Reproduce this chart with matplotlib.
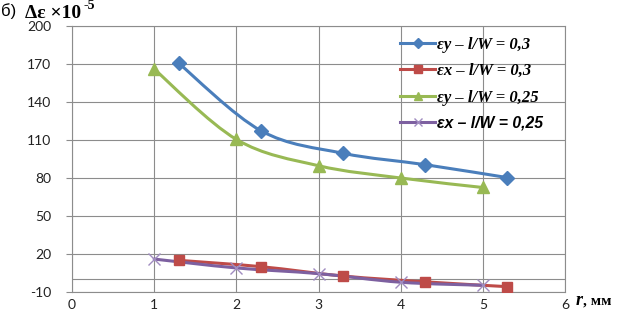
import matplotlib
matplotlib.use("Agg")
import matplotlib.pyplot as plt
from matplotlib.path import Path
from matplotlib.patches import PathPatch
from matplotlib.lines import Line2D
import numpy as np

# ---- data ----
x_shift = [1.3, 2.3, 3.3, 4.3, 5.3]
x_base = [1, 2, 3, 4, 5]
ey_03 = [170.5, 117.3, 99.5, 90.5, 80.3]
ex_03 = [15.0, 10.0, 2.6, -2.0, -5.8]
ey_025 = [166.0, 110.5, 89.7, 80.0, 72.5]
ex_025 = [16.0, 9.0, 4.5, -2.3, -4.7]
labels = ["εy – l/W = 0,3", "εx – l/W = 0,3", "εy – l/W = 0,25", "εx – l/W = 0,25"]
y_ticks = [-10, 20, 50, 80, 110, 140, 170, 200]
x_ticks = [0, 1, 2, 3, 4, 5, 6]

colors = ["#4A7EBB", "#BE4B48", "#98B954", "#7D60A0"]
markers = ["D", "s", "^", "x"]
msizes = [7, 7, 8, 8]

W, H = 617, 313
fig = plt.figure(figsize=(W / 100, H / 100), dpi=100)
ax = fig.add_axes([72 / W, 1 - 292 / H, (565 - 72) / W, (292 - 26) / H])

def smooth_path(xs, ys):
    P = np.column_stack([xs, ys]).astype(float)
    n = len(P)
    verts = [P[0]]
    codes = [Path.MOVETO]
    for i in range(n - 1):
        p0 = P[i - 1] if i > 0 else P[i]
        p1 = P[i]
        p2 = P[i + 1]
        p3 = P[i + 2] if i + 2 < n else P[i + 1]
        c1 = p1 + (p2 - p0) / 6.0
        c2 = p2 - (p3 - p1) / 6.0
        verts += [c1, c2, p2]
        codes += [Path.CURVE4] * 3
    return Path(verts, codes)

series = [(x_shift, ey_03), (x_shift, ex_03), (x_base, ey_025), (x_base, ex_025)]
handles = []
for k, (xs, ys) in enumerate(series):
    patch = PathPatch(smooth_path(xs, ys), facecolor="none", edgecolor=colors[k],
                      lw=2.2, zorder=3, capstyle="round", joinstyle="round")
    ax.add_patch(patch)
    if markers[k] == "x":
        ax.plot(xs, ys, linestyle="none", marker="x", ms=msizes[k], mew=1.0,
                color="#A08CC0", zorder=4)
        h = Line2D([], [], color=colors[k], lw=2.2, marker="x", ms=6,
                   mew=1.0, mec="#A08CC0")
    else:
        ax.plot(xs, ys, linestyle="none", marker=markers[k], ms=msizes[k],
                color=colors[k], mec=colors[k], zorder=4)
        h = Line2D([], [], color=colors[k], lw=2.2, marker=markers[k], ms=5.5)
    handles.append(h)

ax.set_xlim(0, 6)
ax.set_ylim(-10, 200)
ax.set_xticks(x_ticks)
ax.set_yticks(y_ticks)
ax.grid(True, color="#8C8C8C", lw=0.8)
ax.set_axisbelow(True)
ax.axhline(0, color="#8C8C8C", lw=0.8, zorder=1)
for s in ax.spines.values():
    s.set_color("#8C8C8C")
    s.set_linewidth(0.8)

tick_font = dict(family="Lato", size=10)
ax.set_xticklabels([str(v) for v in x_ticks], **tick_font, color="#222222")
ax.set_yticklabels([str(v) for v in y_ticks], **tick_font, color="#222222")
ax.tick_params(axis="y", length=4, width=0.8, color="#8C8C8C", pad=11)
ax.tick_params(axis="x", length=0, pad=5)

leg = ax.legend(handles, labels, loc="upper left", bbox_to_anchor=(400 / W, 1 - 37 / H),
                bbox_transform=fig.transFigure, frameon=False, handlelength=2.1,
                handletextpad=0.1, labelspacing=0.62, borderaxespad=0, borderpad=0,
                numpoints=1,
                prop=dict(family="Liberation Serif", style="italic", weight="bold", size=12))
leg.get_texts()[3].set_fontfamily("Liberation Sans")
leg.get_texts()[3].set_fontsize(11.3)

# title pieces
fig.text(1 / W, 1 - 16 / H, "б)", family="Liberation Sans", size=12, color="black")
fig.text(25 / W, 1 - 18 / H, "Δε ×10", family="Liberation Serif", weight="bold",
         size=14, color="black")
fig.text(83 / W, 1 - 9 / H, "-5", family="Liberation Serif", weight="bold",
         size=10, color="black")

# x axis label
fig.text(576 / W, 1 - 305 / H, "r", family="Liberation Serif", style="italic",
         weight="bold", size=13)
fig.text(583 / W, 1 - 305 / H, ", мм", family="Liberation Serif", weight="bold", size=11)

fig.savefig("out.png", dpi=100)
